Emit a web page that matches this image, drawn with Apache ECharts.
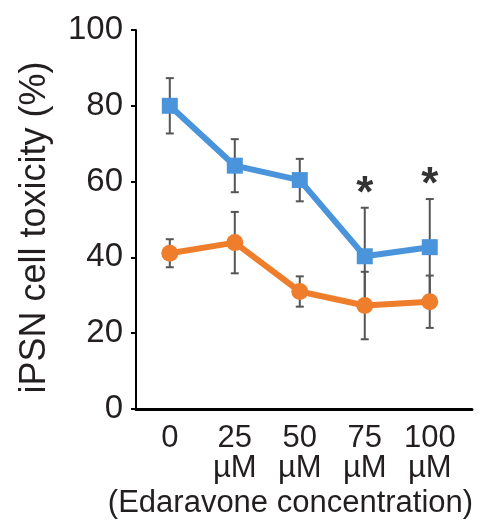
<!DOCTYPE html>
<html><head><meta charset="utf-8">
<script src="https://cdn.jsdelivr.net/npm/echarts@6/dist/echarts.min.js"></script>
<style>html,body{margin:0;padding:0;background:#fff}#c{width:482px;height:527px}</style>
</head><body><div id="c"></div>
<script>
const categories = ['0', '25\nµM', '50\nµM', '75\nµM', '100\nµM'];
const blueMean = [80, 64.2, 60.4, 40.3, 42.7];
const blueErr = [7.3, 7.0, 5.6, 12.8, 12.7];
const orangeMean = [41.1, 43.9, 31.0, 27.3, 28.3];
const orangeErr = [3.7, 8.1, 4.0, 8.9, 6.9];
const significant = [false, false, false, true, true];
const yTicks = [0, 20, 40, 60, 80, 100];

const FONT = '"Liberation Sans", Arial, sans-serif';
const BLUE = '#4a94db', ORANGE = '#ee7d2c', ERR = '#555555', TEXT = '#231f20';

function errData(mean, err) {
  return mean.map((m, i) => [i, m - err[i], m + err[i]]);
}
function errRender(params, api) {
  const x = api.value(0);
  const lo = api.coord([x, api.value(1)]);
  const hi = api.coord([x, api.value(2)]);
  const w = 4;
  const st = { stroke: ERR, lineWidth: 2 };
  return { type: 'group', children: [
    { type: 'line', shape: { x1: lo[0], y1: lo[1], x2: hi[0], y2: hi[1] }, style: st },
    { type: 'line', shape: { x1: lo[0]-w, y1: lo[1], x2: lo[0]+w, y2: lo[1] }, style: st },
    { type: 'line', shape: { x1: hi[0]-w, y1: hi[1], x2: hi[0]+w, y2: hi[1] }, style: st }
  ]};
}

const chart = echarts.init(document.getElementById('c'), null, { renderer: 'canvas' });
chart.setOption({
  animation: false,
  grid: { left: 136, right: 10, top: 30, bottom: 118, containLabel: false, outerBoundsMode: 'none' },
  xAxis: {
    type: 'value', min: -0.52, max: 4.65,
    splitLine: { show: false },
    axisLine: { show: true, onZero: false, lineStyle: { color: '#000', width: 3 } },
    axisTick: { show: false },
    axisLabel: {
      customValues: categories.map((c, i) => i),
      formatter: v => categories[Math.round(v)] ?? '',
      fontFamily: FONT, fontSize: 31, lineHeight: 30, color: TEXT, margin: 14
    },
    name: '(Edaravone concentration)', nameLocation: 'middle', nameGap: 78,
    nameTextStyle: { fontFamily: FONT, fontSize: 31, color: TEXT, padding: [0, 27, 0, 0] }
  },
  yAxis: {
    type: 'value', min: 0, max: 100, interval: 20,
    splitLine: { show: false },
    axisLine: { show: true, onZero: false, lineStyle: { color: '#000', width: 2 } },
    axisTick: { show: true, length: 5, lineStyle: { color: '#000', width: 2 } },
    axisLabel: {
      customValues: yTicks,
      fontFamily: FONT, fontSize: 33, color: TEXT, margin: 13
    },
    name: 'iPSN cell toxicity (%)', nameLocation: 'middle', nameGap: 83,
    nameTextStyle: { fontFamily: FONT, fontSize: 36, color: TEXT, padding: [0, 16, 0, 0] }
  },
  series: [
    { type: 'custom', renderItem: errRender, data: errData(orangeMean, orangeErr), z: 1, encode: { x: 0, y: [1, 2] } },
    { type: 'custom', renderItem: errRender, data: errData(blueMean, blueErr), z: 1, encode: { x: 0, y: [1, 2] } },
    { type: 'line', data: orangeMean.map((v, i) => [i, v]), z: 3,
      symbol: 'circle', symbolSize: 17, lineStyle: { color: ORANGE, width: 6 }, itemStyle: { color: ORANGE } },
    { type: 'line', data: blueMean.map((v, i) => [i, v]), z: 4,
      symbol: 'rect', symbolSize: 16, lineStyle: { color: BLUE, width: 6 }, itemStyle: { color: BLUE } },
    { type: 'scatter', symbolSize: 0, z: 5,
      data: blueMean.map((v, i) => significant[i] ? [i, v + blueErr[i]] : null).filter(d => d),
      label: { show: true, position: 'top', distance: -9, formatter: '*', fontFamily: FONT, fontSize: 44, fontWeight: 'bold', color: '#000' } }
  ]
});
</script></body></html>
